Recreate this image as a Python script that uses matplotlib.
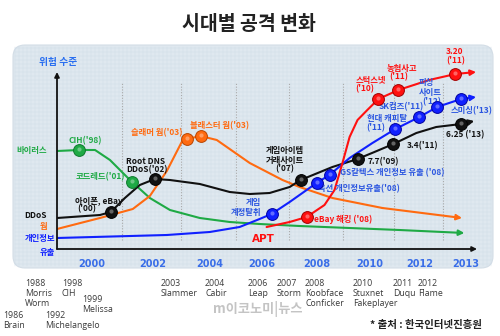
import numpy as np
import matplotlib
matplotlib.use("Agg")
import matplotlib.pyplot as plt
from matplotlib.patches import FancyBboxPatch

plt.rcParams['font.family'] = ['Noto Sans CJK KR', 'DejaVu Sans']

# the original timeline is not evenly spaced: year -> horizontal position
knot_years = [1990, 1998, 2000, 2002, 2004, 2006, 2008, 2010, 2012, 2013, 2014, 2020]
knot_pos = [-213, 31, 92, 153, 210, 262, 317, 370, 420, 467, 514, 796]

def fwd(x):
    return np.interp(x, knot_years, knot_pos)

def inv(x):
    return np.interp(x, knot_pos, knot_years)

# threat level curves (arbitrary units)
virus_x = [1998.85, 1999.57, 2000.10, 2000.59, 2001.28, 2001.90, 2002.60, 2003.65, 2004.77, 2005.92, 2007.38, 2011.2, 2012.96]
virus_y = [98, 99, 99, 89, 68, 51, 39, 31, 27, 25, 23, 19, 16]
virus_ev_x = [1999.57, 2001.30]
virus_ev_y = [99, 67]

worm_x = [1998.85, 2000.26, 2001.34, 2001.90, 2002.49, 2003.05, 2003.19, 2003.68, 2004.27, 2005.54, 2006.76, 2007.38, 2008.60, 2010.52, 2012.91]
worm_y = [20, 31, 40, 53, 78, 109, 110, 113, 109, 86, 69, 62, 51, 41, 31]
worm_ev_x = [2003.19, 2003.68]
worm_ev_y = [110, 113]

ddos_x = [1998.85, 2000.26, 2000.62, 2001.08, 2001.57, 2002.07, 2002.60, 2003.65, 2004.77, 2005.54, 2006.29, 2007.02, 2007.42, 2008.60, 2009.55, 2010.20, 2010.96, 2011.88, 2012.36, 2012.89, 2013.17]
ddos_y = [31, 34, 37, 51, 64, 70, 69, 65, 57, 55, 56, 62, 69, 82, 90, 97, 105, 116, 122, 125, 128]
ddos_ev_x = [2000.62, 2002.07, 2007.42, 2009.55, 2010.96, 2012.89]
ddos_ev_y = [37, 70, 69, 90, 105, 125]

leak_x = [1998.85, 2002.49, 2004.0, 2005.15, 2005.92, 2006.36, 2007.02, 2008.0, 2008.49, 2009.25, 2010.12, 2011.04, 2012.0, 2012.38, 2012.89, 2013.21]
leak_y = [11, 14, 17, 22, 30, 35, 47, 66, 74, 91, 106, 120, 132, 142, 150, 152]
leak_ev_x = [2006.36, 2008.0, 2008.49, 2011.04, 2012.0, 2012.38, 2012.89]
leak_ev_y = [35, 66, 74, 120, 132, 142, 150]

apt_x = [2006.18, 2007.02, 2007.64, 2008.30, 2008.68, 2008.98, 2009.25, 2009.55, 2009.92, 2010.36, 2011.16, 2012.21, 2012.77, 2013.21]
apt_y = [22, 27, 32, 44, 59, 86, 112, 129, 139, 150, 159, 169, 175, 177]
apt_ev_x = [2007.64, 2010.36, 2011.16, 2012.77]
apt_ev_y = [32, 150, 159, 175]

tick_years = [2000, 2002, 2004, 2006, 2008, 2010, 2012, 2013]
grid_years = [2001, 2003, 2005, 2007, 2009, 2011, 2012.5]

GREEN = '#1faa45'
ORANGE = '#ff6a10'
BLUE = '#1020ff'
RED = '#ff1010'
BLACK = '#111111'
LBLUE = '#2a55e0'

# event labels: text, year, level, alignment, colour
labels = [
    ("위험 수준", 1998.89, 187, 'center', '#2a6ff0'),
    ("바이러스", 1998.52, 98, 'right', GREEN),
    ("DDoS", 1998.52, 33, 'right', BLACK),
    ("웜", 1998.52, 22, 'right', ORANGE),
    ("개인정보", 1998.79, 11, 'right', BLUE),
    ("유출", 1998.79, -3, 'right', BLUE),
    ("CIH('98)", 1999.77, 108, 'center', GREEN),
    ("코드레드('01)", 2001.08, 72, 'right', GREEN),
    ("아이폰, eBay", 1999.44, 48, 'left', BLACK),
    ("('00)", 1999.50, 40, 'left', BLACK),
    ("Root DNS", 2001.11, 88, 'left', BLACK),
    ("DDoS('02)", 2001.11, 79, 'left', BLACK),
    ("슬래머 웜('03)", 2003.05, 116, 'right', ORANGE),
    ("블래스터 웜('03)", 2003.30, 123, 'left', ORANGE),
    ("게임아이템", 2006.84, 99, 'center', BLACK),
    ("거래사이트", 2006.84, 89, 'center', BLACK),
    ("('07)", 2006.84, 80, 'center', BLACK),
    ("7.7('09)", 2009.92, 87, 'left', BLACK),
    ("3.4('11)", 2011.48, 103, 'left', BLACK),
    ("6.25 ('13)", 2012.57, 114, 'left', BLACK),
    ("게임", 2005.98, 46, 'right', LBLUE),
    ("계정탈취", 2006.0, 37, 'right', LBLUE),
    ("옥션 개인정보유출('08)", 2008.04, 60, 'left', LBLUE),
    ("GS칼텍스 개인정보 유출 ('08)", 2008.87, 76, 'left', LBLUE),
    ("eBay 해킹 ('08)", 2007.92, 30, 'left', RED),
    ("현대 캐피탈", 2009.89, 131, 'left', LBLUE),
    ("('11)", 2009.89, 121, 'left', LBLUE),
    ("SK컴즈('11)", 2010.36, 142, 'left', LBLUE),
    ("피싱", 2011.98, 166, 'left', LBLUE),
    ("사이트", 2011.98, 156, 'left', LBLUE),
    ("('12)", 2012.06, 147, 'left', LBLUE),
    ("스미싱('13)", 2012.66, 138, 'left', LBLUE),
    ("스턱스넷", 2009.48, 169, 'left', RED),
    ("('10)", 2009.48, 160, 'left', RED),
    ("농협사고", 2010.68, 180, 'left', RED),
    ("('11)", 2010.78, 172, 'left', RED),
    ("3.20", 2012.57, 198, 'left', RED),
    ("('11)", 2012.57, 188, 'left', RED),
]

# malware timeline below the chart
timeline = [
    ["1988", "Morris", "Worm"], ["1998", "CIH"], ["1999", "Melissa"],
    ["1992", "Michelangelo"], ["1986", "Brain"], ["2003", "Slammer"],
    ["2004", "Cabir"], ["2006", "Leap"], ["2007", "Storm"],
    ["2008", "Koobface", "Conficker"], ["2010", "Stuxnet", "Fakeplayer"],
    ["2011", "Duqu"], ["2012", "Flame"],
]
timeline_xy = [(25, 283), (62, 283), (82, 299), (45, 315), (3, 315),
               (161, 283), (205, 283), (248, 283), (277, 283), (305, 283),
               (353, 283), (393, 283), (418, 283)]

fig = plt.figure(figsize=(5, 3.36), dpi=100)

# background layer in pixel units
bg = fig.add_axes([0, 0, 1, 1])
bg.set_xlim(0, 500)
bg.set_ylim(336, 0)
bg.axis('off')
panel = FancyBboxPatch((13, 45), 480, 223, boxstyle="round,pad=0,rounding_size=12",
                       fc='#dfe8ef', ec='#d3dde6', lw=0.8)
bg.add_patch(panel)
for gx in np.arange(15, 493, 4):
    bg.plot([gx, gx], [47, 266], color='#cfdce7', lw=0.3, zorder=1)
for gy in np.arange(48, 266, 4):
    bg.plot([15, 491], [gy, gy], color='#cfdce7', lw=0.3, zorder=1)
bg.text(249, 25, "시대별 공격 변화", ha='center', va='center', fontsize=14,
        fontweight='bold', color='#222222')
for lines, (tx, ty) in zip(timeline, timeline_xy):
    for i, line in enumerate(lines):
        bg.text(tx, ty + i * 10, line, ha='left', va='center', fontsize=6.3,
                color='#3a3a3a', family=['Open Sans', 'DejaVu Sans'])
bg.text(213, 309, "m이코노미|뉴스", ha='left', va='center', fontsize=9.5,
        color='#c4c4c4', fontweight='bold')
bg.text(482, 325, "* 출처 : 한국인터넷진흥원", ha='right', va='center', fontsize=7.5,
        fontweight='bold', color='#222222')

# chart axes
ax = fig.add_axes([57 / 500, 1 - 249 / 336, (485 - 57) / 500, (249 - 66) / 336])
ax.set_xscale('function', functions=(fwd, inv))
ax.set_xlim(1998.85, 2013.4)
ax.set_ylim(0, 183)
ax.patch.set_alpha(0)
for s in ax.spines.values():
    s.set_visible(False)
ax.set_yticks([])
ax.set_xticks(tick_years)
ax.set_xticklabels([str(y) for y in tick_years], fontsize=7, fontweight='bold',
                   color='#3a6ee8', family=['DejaVu Sans'])
ax.tick_params(axis='x', length=0, pad=7)

for gx in grid_years:
    ax.plot([gx, gx], [9, 167], color='#a8a8a8', lw=0.8, ls=(0, (1, 1.5)), zorder=1)

series = [
    (virus_x, virus_y, virus_ev_x, virus_ev_y, GREEN, '#0d7a2c'),
    (worm_x, worm_y, worm_ev_x, worm_ev_y, ORANGE, '#b84400'),
    (ddos_x, ddos_y, ddos_ev_x, ddos_ev_y, BLACK, '#000000'),
    (leak_x, leak_y, leak_ev_x, leak_ev_y, BLUE, '#0000a0'),
    (apt_x, apt_y, apt_ev_x, apt_ev_y, RED, '#a00000'),
]
for xs, ys, ex, ey, c, ec in series:
    ax.plot(xs[:-1], ys[:-1], color=c, lw=1.5, zorder=3, solid_capstyle='round')
    ax.annotate('', xy=(xs[-1], ys[-1]), xytext=(xs[-2], ys[-2]),
                arrowprops=dict(arrowstyle='-|>', color=c, lw=1.5, mutation_scale=8,
                                shrinkA=0, shrinkB=0), zorder=3)

for txt, lx, ly, ha, c in labels:
    ax.text(lx, ly, txt, ha=ha, va='center', fontsize=6, fontweight='bold',
            color=c, clip_on=False, zorder=4)
for txt in ax.texts[:6]:
    txt.set_fontsize(7)
ax.texts[0].set_fontsize(6.5)

for xs, ys, ex, ey, c, ec in series:
    ax.plot(ex, ey, 'o', ms=8.5, mfc=c, mec=ec, mew=0.7, zorder=5)
    ax.plot(ex, np.array(ey) + 1.5, 'o', ms=3, mfc='white', mec='none', alpha=0.35, zorder=6)

ax.text(2006.07, 10, "APT", ha='center', va='center', fontsize=7.5,
        fontweight='bold', color=RED, family=['DejaVu Sans'])

# axis arrows
ax.annotate('', xy=(1998.85, 177), xytext=(1998.85, 0),
            arrowprops=dict(arrowstyle='-|>', color='#111111', lw=1.3,
                            mutation_scale=7, shrinkA=0, shrinkB=0))
ax.annotate('', xy=(2013.23, 0), xytext=(1998.85, 0),
            arrowprops=dict(arrowstyle='-|>', color='#111111', lw=1.3,
                            mutation_scale=7, shrinkA=0, shrinkB=0))

fig.savefig("out.png", dpi=100)
